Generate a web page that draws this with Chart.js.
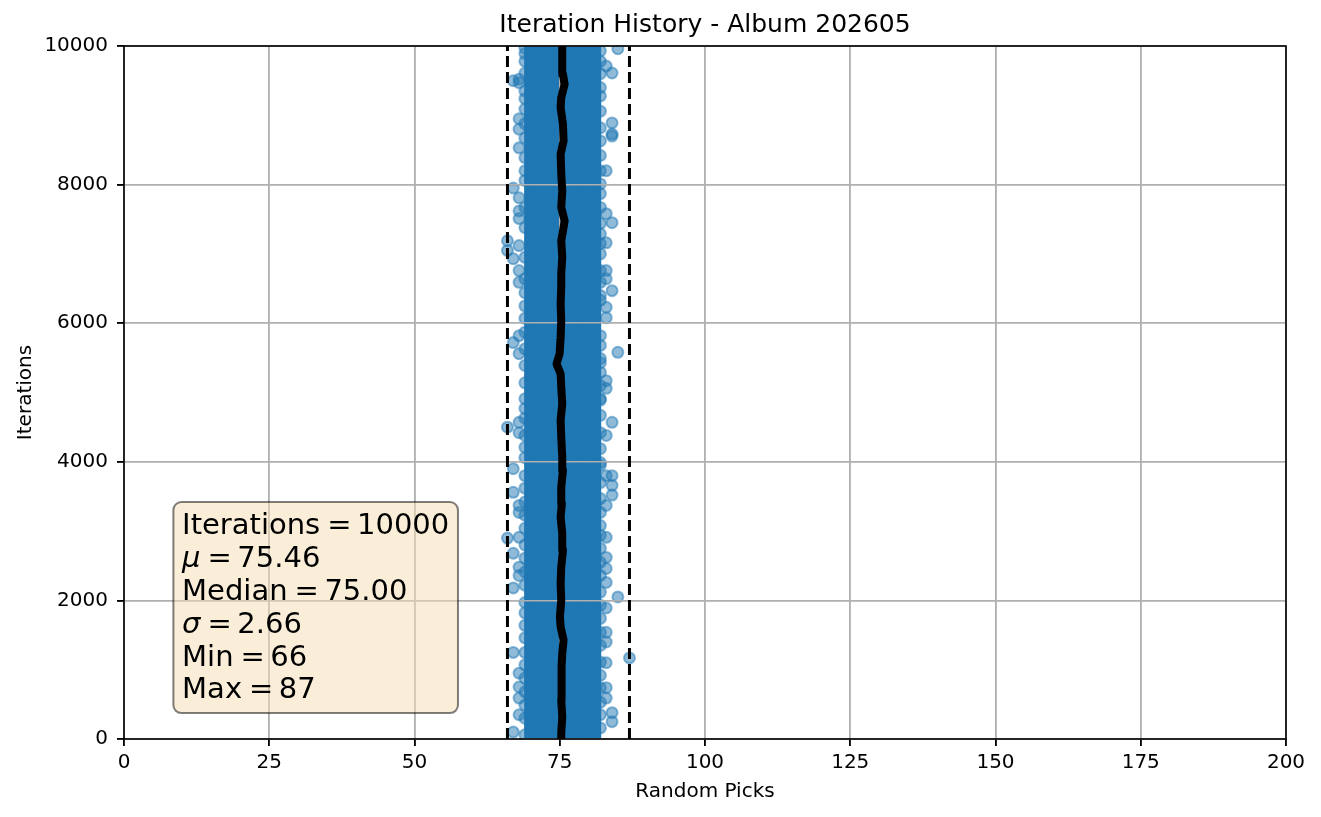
<!DOCTYPE html>
<html>
<head>
<meta charset="utf-8">
<title>Iteration History - Album 202605</title>
<script src="https://cdn.jsdelivr.net/npm/chart.js"></script>
<style>
  html, body { margin: 0; padding: 0; background: #fff; }
  #wrap { position: relative; width: 1321px; height: 817px; }
</style>
</head>
<body>
<div id="wrap"><canvas id="historyCanvas"></canvas></div>
<script>
const chartTitle = "Iteration History - Album 202605";
const xTickValues = [0, 25, 50, 75, 100, 125, 150, 175, 200];
const yTickValues = [0, 2000, 4000, 6000, 8000, 10000];

// columns where the picks overlap into a solid band, full height of the run
const denseCols = [70, 71, 72, 73, 74, 75, 76, 77, 78, 79, 80, 81];
const denseSpan = [0, 10000];

// sparser columns at the edges, iterations
const iters66 = [7190, 7050, 4500, 2900];
const iters67 = [9500, 7950, 6930, 5720, 3900, 3560, 2680, 2180, 1250, 100];
const iters68 = [9520, 9470, 8950, 8800, 8530, 7810, 7620, 7510, 7120, 6760, 6590, 5820, 5560, 4570, 4420, 3370, 3270, 2910, 2480, 2360, 950, 750, 590, 350];
const iters69 = [9970, 9890, 9780, 9610, 9350, 9240, 9090, 8880, 8670, 8390, 8200, 8060, 7670, 7380, 6950, 6640, 6440, 6250, 6070, 5870, 5630, 5390, 5140, 4910, 4770, 4630, 4380, 4210, 4060, 3800, 3620, 3420, 3230, 3040, 2800, 2610, 2410, 2220, 1970, 1820, 1640, 1460, 1250, 1070, 880, 680, 490, 300, 60];
const iters82 = [9930, 9780, 9600, 9400, 9280, 9060, 8820, 8630, 8420, 8200, 8010, 7870, 7670, 7440, 7290, 7150, 7000, 6760, 6590, 6400, 6330, 5820, 5680, 5490, 5430, 5290, 5100, 4910, 4890, 4670, 4420, 4190, 3990, 3950, 3700, 3470, 3270, 3080, 2940, 2750, 2550, 2360, 2120, 1930, 1740, 1540, 1350, 1110, 920, 740, 530, 350, 160];
const iters83 = [9710, 8200, 7580, 7160, 6760, 6640, 6230, 6080, 5170, 5060, 4380, 3800, 3370, 2910, 2620, 2460, 2260, 1890, 1540, 1400, 1100, 740, 590];
const iters84 = [9610, 8890, 8730, 8700, 7450, 6470, 4570, 3800, 3660, 3520, 380, 250];
const iters85 = [9960, 5580, 2050];
const iters87 = [1170];
const edgePicks = [66, 67, 68, 69, 82, 83, 84, 85, 87];
const edgeIters = [iters66, iters67, iters68, iters69, iters82, iters83, iters84, iters85, iters87];

// running average line
const meanIters = [0, 82, 321, 562, 803, 1042, 1235, 1427, 1618, 1762, 2003, 2243, 2483, 2723, 2964, 3203, 3396, 3636, 3876, 4068, 4356, 4597, 4837, 5076, 5269, 5413, 5557, 5797, 6037, 6278, 6518, 6710, 6950, 7190, 7382, 7478, 7670, 7911, 8156, 8440, 8631, 8872, 9111, 9255, 9448, 9592, 10000];
const meanPicks = [75.26, 75.26, 75.43, 75.26, 75.37, 75.26, 75.43, 75.66, 75.15, 75.03, 75.26, 75.15, 75.26, 75.55, 75.43, 75.15, 75.37, 75.26, 75.55, 75.43, 75.26, 75.15, 75.43, 75.26, 75.15, 74.45, 74.97, 75.15, 75.26, 75.15, 75.26, 75.26, 75.43, 75.26, 75.66, 75.84, 75.26, 75.43, 75.26, 75.15, 75.66, 75.55, 75.15, 75.26, 75.84, 75.55, 75.43];

const minPick = 66, maxPick = 87, iterCount = 10000;

const statLabels = ["Iterations", "μ", "Median", "σ", "Min", "Max"];
const statValues = ["10000", "75.46", "75.00", "2.66", "66", "87"];
const statItalic = [false, true, false, true, false, false];

Chart.defaults.font.family = '"DejaVu Sans", sans-serif';
Chart.defaults.color = "#000";

const BLUE = "rgb(31,119,180)";
const BLUE_A = "rgba(31,119,180,0.5)";

const edgePoints = [];
edgePicks.forEach((p, i) => edgeIters[i].forEach(it => edgePoints.push({ x: p, y: it })));

// grid sits above the scatter but under the lines, spines on top
const layering = {
  id: "layering",
  afterDatasetDraw(chart, args) {
    if (args.index !== 1) return;
    chart.scales.x.drawGrid(chart.chartArea);
    chart.scales.y.drawGrid(chart.chartArea);
  },
  afterDatasetsDraw(chart) {
    const { ctx, chartArea: a } = chart;
    ctx.save();
    ctx.strokeStyle = "#000";
    ctx.lineWidth = 1.6;
    ctx.strokeRect(a.left, a.top, a.right - a.left, a.bottom - a.top);
    ctx.restore();
  },
  afterDraw(chart) {
    const { ctx, chartArea: a } = chart;
    const fs = 29, lh = 32.8, pad = 8.7, gapL = 7, gapR = 5.5;
    const x0 = a.left + 0.05 * (a.right - a.left);
    const bottom = a.bottom - 0.05 * (a.bottom - a.top);
    const lastBase = bottom - 6;
    const n = statLabels.length;
    const upright = fs + 'px "DejaVu Sans"', italic = "italic " + fs + 'px "DejaVu Sans"';

    ctx.save();
    ctx.font = upright;
    const eqW = ctx.measureText("=").width;
    let maxW = 0;
    const widths = statLabels.map((lab, i) => {
      ctx.font = statItalic[i] ? italic : upright;
      const w1 = ctx.measureText(lab).width;
      ctx.font = upright;
      const w2 = ctx.measureText(statValues[i]).width;
      maxW = Math.max(maxW, w1 + gapL + eqW + gapR + w2);
      return w1;
    });

    const firstBase = lastBase - (n - 1) * lh;
    const bx = x0 - pad, by = firstBase - 23.6 - pad;
    const bw = maxW + 2 * pad, bh = bottom + pad - by;
    ctx.beginPath();
    ctx.roundRect(bx, by, bw, bh, 8);
    ctx.fillStyle = "rgba(245,222,179,0.5)";
    ctx.fill();
    ctx.strokeStyle = "rgba(0,0,0,0.5)";
    ctx.lineWidth = 2;
    ctx.stroke();

    ctx.fillStyle = "#000";
    ctx.textBaseline = "alphabetic";
    ctx.textAlign = "left";
    statLabels.forEach((lab, i) => {
      const y = firstBase + i * lh;
      ctx.font = statItalic[i] ? italic : upright;
      ctx.fillText(lab, x0, y);
      ctx.font = upright;
      const ex = x0 + widths[i] + gapL;
      ctx.fillText("=", ex, y);
      ctx.fillText(statValues[i], ex + eqW + gapR, y);
    });
    ctx.restore();
  }
};

new Chart(document.getElementById("historyCanvas"), {
  type: "scatter",
  data: {
    datasets: [
      {
        type: "bar",
        data: denseCols.map(c => ({ x: c, y: denseSpan })),
        backgroundColor: BLUE,
        borderWidth: 0,
        barThickness: 12.5,
        grouped: false,
        clip: 0,
        order: 4,
      },
      {
        data: edgePoints,
        backgroundColor: BLUE_A,
        borderColor: BLUE_A,
        pointRadius: 5.5,
        pointBorderWidth: 2,
        clip: 0,
        order: 3,
      },
      {
        data: meanIters.map((it, i) => ({ x: meanPicks[i], y: it })),
        showLine: true,
        borderColor: "#000",
        borderWidth: 8,
        borderJoinStyle: "round",
        pointRadius: 0,
        clip: 0,
        order: 1,
      },
      {
        data: [{ x: minPick, y: 0 }, { x: minPick, y: iterCount }],
        showLine: true,
        borderColor: "#000",
        borderWidth: 3,
        borderDash: [11, 5],
        pointRadius: 0,
        clip: 0,
        order: 0,
      },
      {
        data: [{ x: maxPick, y: 0 }, { x: maxPick, y: iterCount }],
        showLine: true,
        borderColor: "#000",
        borderWidth: 3,
        borderDash: [11, 5],
        pointRadius: 0,
        clip: 0,
        order: 0,
      },
    ],
  },
  options: {
    responsive: true,
    maintainAspectRatio: false,
    animation: false,
    events: [],
    layout: { padding: { left: 0, right: 35, top: 0, bottom: 0 } },
    plugins: {
      legend: { display: false },
      tooltip: { enabled: false },
      title: {
        display: true,
        text: chartTitle,
        fullSize: false,
        color: "#000",
        font: { size: 25, weight: "normal" },
        padding: { top: 10, bottom: 6 },
      },
    },
    scales: {
      x: {
        type: "linear",
        min: 0,
        max: 200,
        offset: false,
        afterBuildTicks: s => { s.ticks = xTickValues.map(v => ({ value: v })); },
        afterFit: s => { s.height = 78; },
        ticks: { color: "#000", font: { size: 20 }, padding: 5, maxRotation: 0, autoSkip: false, callback: v => String(v) },
        grid: { color: "#b0b0b0", lineWidth: 1.6, tickColor: "#000", tickLength: 7, tickWidth: 1.6, offset: false },
        border: { display: false },
        title: { display: true, text: "Random Picks", color: "#000", font: { size: 20 }, padding: { top: 0, bottom: 13 } },
      },
      y: {
        type: "linear",
        min: 0,
        max: 10000,
        afterBuildTicks: s => { s.ticks = yTickValues.map(v => ({ value: v })); },
        afterFit: s => { s.width = 124; },
        ticks: { color: "#000", font: { size: 20 }, padding: 9, autoSkip: false, callback: v => String(v) },
        grid: { color: "#b0b0b0", lineWidth: 1.6, tickColor: "#000", tickLength: 7, tickWidth: 1.6 },
        border: { display: false },
        title: { display: true, text: "Iterations", color: "#000", font: { size: 20 }, padding: { top: 14, bottom: 0 } },
      },
    },
  },
  plugins: [layering],
});
</script>
</body>
</html>
